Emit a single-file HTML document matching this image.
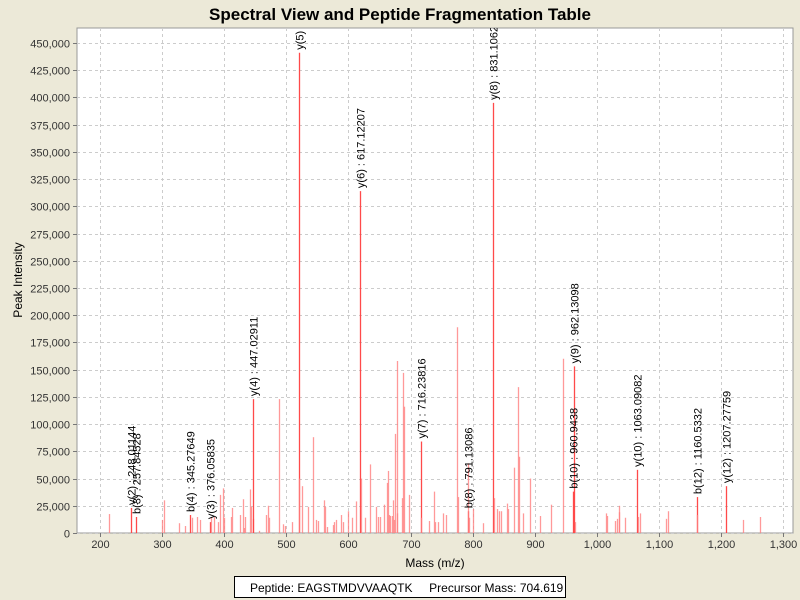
<!DOCTYPE html>
<html><head><meta charset="utf-8"><style>
body{margin:0;background:#ece9d8;font-family:"Liberation Sans",sans-serif;}
svg{display:block}
</style></head><body>
<svg id="chart" width="800" height="600" xmlns="http://www.w3.org/2000/svg">
<rect x="0" y="0" width="800" height="600" fill="#ece9d8"/>
<text x="400" y="20" text-anchor="middle" font-size="17" font-weight="bold" font-family="Liberation Sans, sans-serif">Spectral View and Peptide Fragmentation Table</text>
<rect x="77" y="28" width="716" height="505" fill="#fff" stroke="#999"/>
<g id="grid"></g><g id="peaks"></g><g id="labels"></g><g id="axes"></g>
<text x="435" y="567" text-anchor="middle" font-size="12">Mass (m/z)</text>
<text transform="translate(22,280) rotate(-90)" text-anchor="middle" font-size="12">Peak Intensity</text>
<g>
<rect x="234.5" y="576.5" width="331" height="21" fill="#fff" stroke="#000"/>
<text x="250" y="592" font-size="12" xml:space="preserve">Peptide: EAGSTMDVVAAQTK     Precursor Mass: 704.619</text>
</g>
</svg>
<script>
const masses=[214,250,257.6,300,302.6,328,337,345.3,348,356,361,376.6,378.7,383,389.5,393,397.6,399.7,411,412.6,425.4,429.8,431.4,433.5,441.5,443,446.4,447,455.4,467,470,472,488,494.7,498,509,520,520.3,526,534.3,542.4,547.8,550.4,560,561.7,565.5,575,576.8,580,588,591,599.4,605.8,611.8,619,620,626,634.8,644.4,647,651,657.3,662,663.7,665.6,667,670.6,672,673,675,677.7,678.7,686,688,689,697,717,717.5,729,739,738,744.5,752.8,756.7,774.5,776.5,792,793,794.6,801,817,833,834,840,843,845,854.8,856.5,866.7,873.5,875,881.5,892.5,908.5,926,945,962,963.6,965,1015,1017,1030,1033,1035,1036,1046,1064,1066,1069.5,1112,1115,1160.7,1162,1208,1235,1262];
const intensities=[17400,23000,14700,12000,30000,9000,6400,16500,14000,14700,12000,10000,14700,14700,10000,35000,41000,14000,14700,23000,16500,31000,4600,14700,40000,24000,13000,123000,2000,16500,25000,14000,123000,8000,6400,10000,441000,50000,43000,24000,88000,12000,11000,30000,24000,5500,7300,10000,12000,16500,10000,20000,14000,29000,314000,50000,14000,63000,24000,14700,14700,26000,46000,57000,16500,15600,15600,30000,12000,91000,18000,158000,32000,147000,116000,35000,84000,14000,11000,10000,38000,10000,18000,16500,189000,33000,20000,64000,14000,22000,9000,395000,32000,22000,20000,20000,27000,22000,60000,134000,70000,18000,50000,15600,26000,160000,38000,153000,10000,18000,15600,11000,13000,25000,19000,14000,58000,14700,18000,13000,20000,33000,16500,43000,12000,14700];
const annMasses=[250,257.6,345.3,376.6,447,520,619,717,792,833,962,963.6,1064,1160.7,1208];
const annTexts=["y(2) : 248.01144","b(3) : 257.84528","b(4) : 345.27649","y(3) : 376.05835","y(4) : 447.02911","y(5) : 519.14117","y(6) : 617.12207","y(7) : 716.23816","b(8) : 791.13086","y(8) : 831.1062","b(10) : 960.9438","y(9) : 962.13098","y(10) : 1063.09082","b(12) : 1160.5332","y(12) : 1207.27759"];
const xTicks=[200,300,400,500,600,700,800,900,1000,1100,1200,1300];
const yTicks=[0,25000,50000,75000,100000,125000,150000,175000,200000,225000,250000,275000,300000,325000,350000,375000,400000,425000,450000];
const NS="http://www.w3.org/2000/svg";
const L=77,R=793,T=28,B=533;
const xs=m=>100+(m-200)*0.621;
const ys=v=>B-v*490/450000;
function mk(tag,attrs,parent){const e=document.createElementNS(NS,tag);for(const k in attrs)e.setAttribute(k,attrs[k]);parent.appendChild(e);return e;}
const grid=document.getElementById('grid'),axes=document.getElementById('axes'),pk=document.getElementById('peaks'),lb=document.getElementById('labels');
const fmt=n=>n.toLocaleString('en-US');
xTicks.forEach(t=>{const x=Math.round(xs(t))+0.5;
 const g=mk('line',{x1:x,x2:x,y1:T,y2:B,stroke:'#ccc','stroke-dasharray':'3,3'},grid);
 
 
 const tk=mk('line',{x1:x,x2:x,y1:B,y2:B+4,stroke:'#777'},axes);
 
 
 const tx=mk('text',{x:x,y:B+15,'text-anchor':'middle','font-size':11,fill:'#333'},axes);tx.textContent=fmt(t);
 
 
});
yTicks.forEach(t=>{const y=Math.round(ys(t))+0.5;
 const g=mk('line',{x1:L,x2:R,y1:y,y2:y,stroke:'#ccc','stroke-dasharray':'3,3'},grid);
 
 
 const tk=mk('line',{x1:L-4,x2:L,y1:y,y2:y,stroke:'#777'},axes);
 
 
 const tx=mk('text',{x:L-7,y:y+4,'text-anchor':'end','font-size':11,fill:'#333'},axes);tx.textContent=fmt(t);
 
 
});
masses.forEach((m,i)=>{const x=Math.round(xs(m))+0.5;const ann=annMasses.includes(m);
 const p=mk('line',{x1:x,x2:x,y1:B,y2:ys(intensities[i]),stroke:ann?'#ff4040':'#ff8080','stroke-width':1.3,'stroke-opacity':ann?0.95:0.8},pk);
 
 
});
const clip=mk('clipPath',{id:'pc'},document.getElementById('chart'));mk('rect',{x:L,y:T,width:R-L,height:B-T},clip);
lb.setAttribute('clip-path','url(#pc)');
annMasses.forEach((m,i)=>{const idx=masses.indexOf(m);const x=Math.round(xs(m))+0.5;const y=ys(intensities[idx])-3;
 const t=mk('text',{transform:`translate(${x+4},${y}) rotate(-90)`,'font-size':11,fill:'#000'},lb);t.textContent=annTexts[i];
 
 
});
</script>
</body></html>
